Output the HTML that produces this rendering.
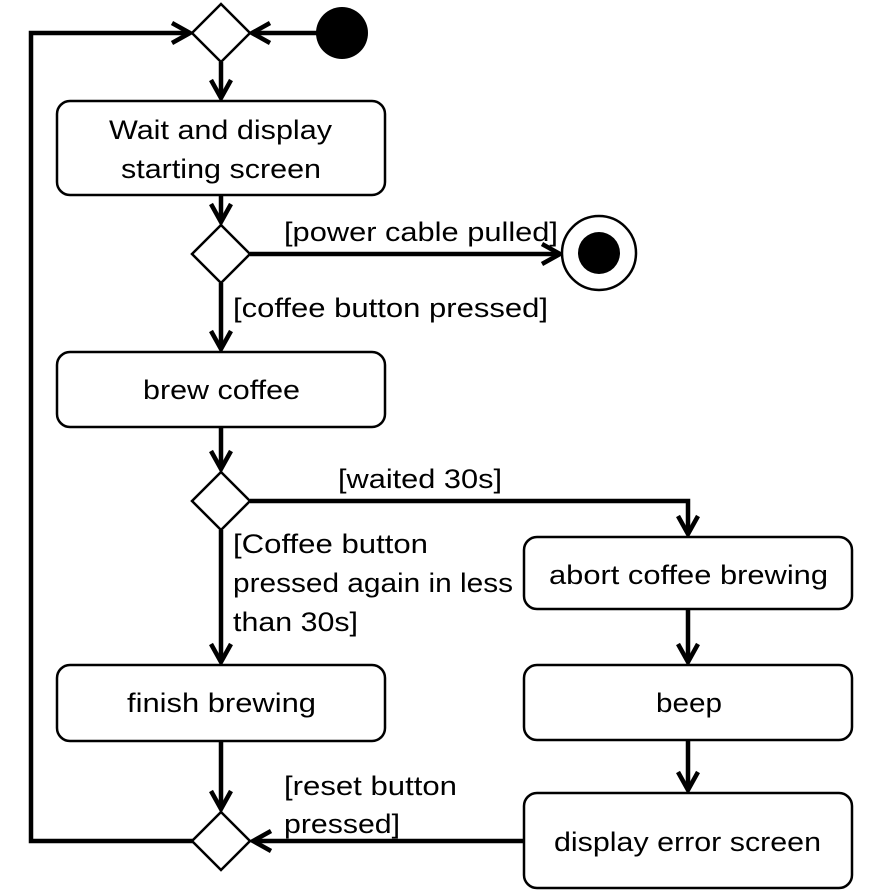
<!DOCTYPE html>
<html><head><meta charset="utf-8"><style>
html,body{margin:0;padding:0;background:#fff;}
svg{display:block;}
text{font-family:"Liberation Sans",sans-serif;font-size:27px;fill:#000;}
</style></head><body>
<svg width="877" height="894" viewBox="0 0 877 894" xmlns="http://www.w3.org/2000/svg">
<g fill="none" stroke="#000" stroke-width="4.5" stroke-linejoin="miter">
<polyline points="221,841 31,841 31,33 190,33"/>
<polyline points="172,23 190,33 172,43"/>
<line x1="320" y1="33" x2="252" y2="33"/>
<polyline points="270,23 252,33 270,43"/>
<line x1="221" y1="62" x2="221" y2="98"/>
<polyline points="211,80 221,98 231,80"/>
<line x1="221" y1="195" x2="221" y2="222"/>
<polyline points="211,204 221,222 231,204"/>
<line x1="250" y1="254" x2="560" y2="254"/>
<polyline points="542,244 560,254 542,264"/>
<line x1="221" y1="283" x2="221" y2="349"/>
<polyline points="211,331 221,349 231,331"/>
<line x1="221" y1="427" x2="221" y2="469"/>
<polyline points="211,451 221,469 231,451"/>
<polyline points="250,501 688,501 688,534"/>
<polyline points="678,516 688,534 698,516"/>
<line x1="221" y1="530" x2="221" y2="662"/>
<polyline points="211,644 221,662 231,644"/>
<line x1="688" y1="609" x2="688" y2="662"/>
<polyline points="678,644 688,662 698,644"/>
<line x1="688" y1="740" x2="688" y2="790"/>
<polyline points="678,772 688,790 698,772"/>
<line x1="221" y1="741" x2="221" y2="809"/>
<polyline points="211,791 221,809 231,791"/>
<line x1="524" y1="841" x2="253" y2="841"/>
<polyline points="271,831 253,841 271,851"/>
</g>
<g fill="#fff" stroke="#000" stroke-width="2.5">
<polygon points="221,4 250,33 221,62 192,33"/>
<polygon points="221,225 250,254 221,283 192,254"/>
<polygon points="221,472 250,501 221,530 192,501"/>
<polygon points="221,812 250,841 221,870 192,841"/>
<rect x="57" y="101" width="328" height="94" rx="13"/>
<rect x="57" y="352" width="328" height="75" rx="13"/>
<rect x="57" y="665" width="328" height="76" rx="13"/>
<rect x="524" y="537" width="328" height="72" rx="13"/>
<rect x="524" y="665" width="328" height="75" rx="13"/>
<rect x="524" y="793" width="328" height="95" rx="13"/>
<circle cx="599" cy="253" r="37"/>
</g>
<circle cx="342" cy="33" r="26" fill="#000"/>
<circle cx="599" cy="253" r="21" fill="#000"/>
<g>
<text x="109" y="139" textLength="223" lengthAdjust="spacingAndGlyphs">Wait and display</text>
<text x="121" y="178" textLength="200" lengthAdjust="spacingAndGlyphs">starting screen</text>
<text x="143" y="399" textLength="157" lengthAdjust="spacingAndGlyphs">brew coffee</text>
<text x="127" y="712" textLength="189" lengthAdjust="spacingAndGlyphs">finish brewing</text>
<text x="549" y="584" textLength="279" lengthAdjust="spacingAndGlyphs">abort coffee brewing</text>
<text x="656" y="712" textLength="66" lengthAdjust="spacingAndGlyphs">beep</text>
<text x="554" y="851" textLength="267" lengthAdjust="spacingAndGlyphs">display error screen</text>
<text x="284" y="241" textLength="274" lengthAdjust="spacingAndGlyphs">[power cable pulled]</text>
<text x="233" y="317" textLength="315" lengthAdjust="spacingAndGlyphs">[coffee button pressed]</text>
<text x="338" y="488" textLength="164" lengthAdjust="spacingAndGlyphs">[waited 30s]</text>
<text x="233" y="553" textLength="195" lengthAdjust="spacingAndGlyphs">[Coffee button</text>
<text x="233" y="592" textLength="280" lengthAdjust="spacingAndGlyphs">pressed again in less</text>
<text x="233" y="631" textLength="125" lengthAdjust="spacingAndGlyphs">than 30s]</text>
<text x="284" y="795" textLength="173" lengthAdjust="spacingAndGlyphs">[reset button</text>
<text x="284" y="833" textLength="116" lengthAdjust="spacingAndGlyphs">pressed]</text>
</g>
</svg>
</body></html>
